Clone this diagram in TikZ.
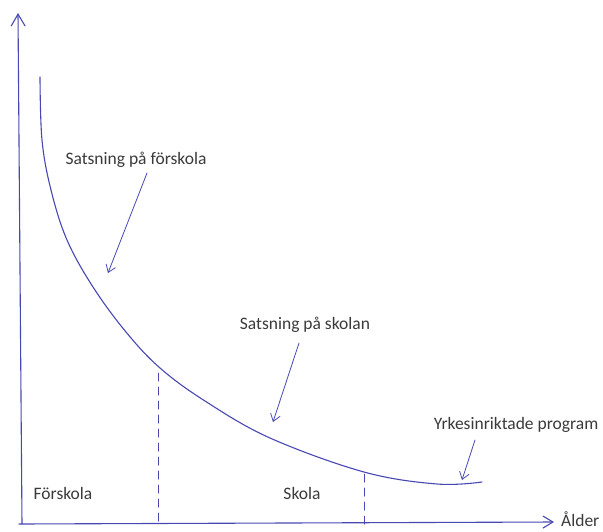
\documentclass[tikz,border=0pt]{standalone}
\usepackage{fontspec}
\setmainfont{Carlito}
\usetikzlibrary{arrows.meta}
\definecolor{pen}{RGB}{72,72,178}
\definecolor{ink}{RGB}{58,58,58}

\begin{document}
\begin{tikzpicture}[x=1pt,y=-1pt,
	every node/.style={text=ink,font=\fontsize{17.5}{20}\selectfont,inner sep=1pt},
	pen/.style={draw=pen,line width=1.1pt,line cap=round},
	pil/.style={pen,line width=0.8pt,-{Straight Barb[length=7pt,width=10pt]}},
	skiljelinje/.style={pen,line width=1pt,dash pattern=on 8pt off 6pt}]

	\useasboundingbox (0,0) rectangle (603,531);

	% axlar
	\coordinate (origo) at (22,524);
	\coordinate (ytopp) at (18,13);
	\coordinate (xslut) at (554,522);
	\draw[pen,-{Straight Barb[length=12pt,width=14pt]}] (origo) -- (ytopp);
	\draw[pen,-{Straight Barb[length=10pt,width=12pt]}] (19,524) -- (xslut);
	\node[anchor=west] (alder) at (560,519) {Ålder};

	% kurvan
	\draw[pen] plot[smooth,tension=0.6] coordinates {(40,77) (42,140) (51,190) (67,240) (93,287) (126,332) (160,368) (205,401) (270,438) (364,472) (437,484) (482,482)};

	% skiljelinjer
	\draw[skiljelinje] (158,373) -- (158,524);
	\draw[skiljelinje] (364,474) -- (364,524);

	\node (forskola) at (63,493) {Förskola};
	\node (skola) at (302,493) {Skola};

	% satsningar
	\node (satsF) at (136,160) {Satsning på förskola};
	\node (satsS) at (305,325) {Satsning på skolan};
	\node (yrkes) at (516,425) {Yrkesinriktade program};

	\coordinate (startF) at (147,173);
	\coordinate (spetsF) at (108,273);
	\coordinate (startS) at (299,343);
	\coordinate (spetsS) at (273,422);
	\coordinate (startY) at (475,440);
	\coordinate (spetsY) at (462,480);

	\draw[pil] (startF) -- (spetsF);
	\draw[pil] (startS) -- (spetsS);
	\draw[pil] (startY) -- (spetsY);

\end{tikzpicture}
\end{document}
